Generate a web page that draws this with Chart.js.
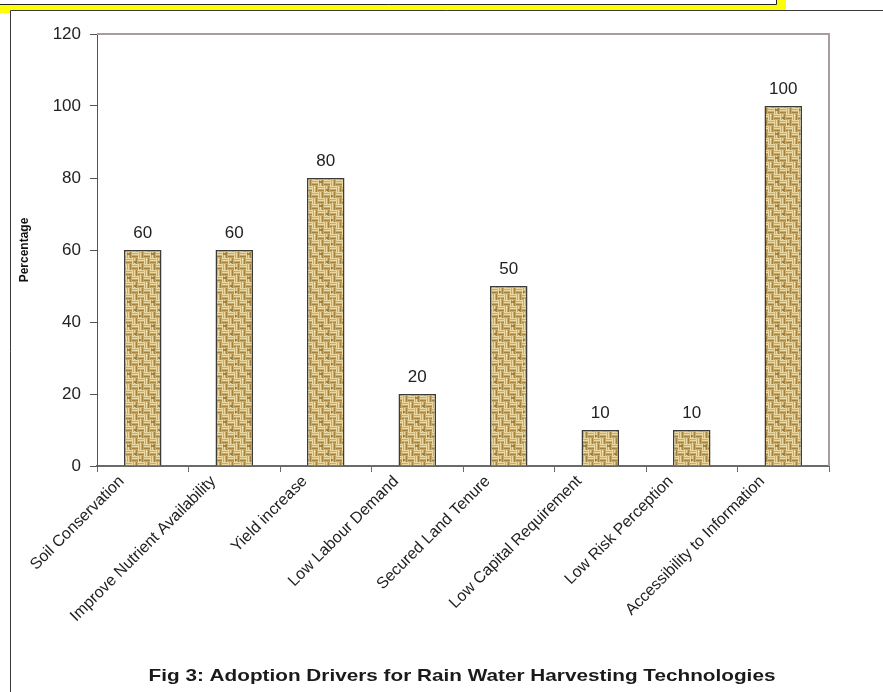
<!DOCTYPE html>
<html>
<head>
<meta charset="utf-8">
<script src="https://cdn.jsdelivr.net/npm/chart.js@4.4.1/dist/chart.umd.min.js"></script>
<style>
  html, body { margin: 0; padding: 0; background: #ffffff; }
  #wrap { width: 883px; height: 692px; }
</style>
</head>
<body>
<div id="wrap"><canvas id="c" width="883" height="692"></canvas></div>
<script>
// Adoption drivers and the share of respondents citing each one
const categories = [
  'Soil Conservation',
  'Improve Nutrient Availability',
  'Yield increase',
  'Low Labour Demand',
  'Secured Land Tenure',
  'Low Capital Requirement',
  'Low Risk Perception',
  'Accessibility to Information'
];
const percentages = [60, 60, 80, 20, 50, 10, 10, 100];
const yTicks = [0, 20, 40, 60, 80, 100, 120];
const yTitle = 'Percentage';
const caption = 'Fig 3: Adoption Drivers for Rain Water Harvesting Technologies';

const FONT = '"Liberation Sans", Arial, sans-serif';
const canvas = document.getElementById('c');
const ctx = canvas.getContext('2d');

// Woven sack-cloth fill for the bars
function burlapPattern() {
  const b = 6, n = b * 4;
  const p = document.createElement('canvas');
  p.width = n; p.height = n;
  const g = p.getContext('2d');
  g.fillStyle = '#cdaa68';
  g.fillRect(0, 0, n, n);
  for (let by = 0; by < 4; by++) {
    for (let bx = 0; bx < 4; bx++) {
      const x0 = bx * b, y0 = by * b;
      const horiz = (bx + by) % 2 === 0;
      for (let k = 0; k < 3; k++) {
        g.fillStyle = k === 2 ? '#a7823d' : '#ead9a2';
        if (horiz) g.fillRect(x0, y0 + k * 2, b, 1);
        else g.fillRect(x0 + k * 2, y0, 1, b);
      }
    }
  }
  // darker knots in the weave
  g.fillStyle = 'rgba(120,86,30,0.6)';
  g.fillRect(7, 13, 3, 2);
  g.fillRect(19, 3, 2, 2);
  g.fillRect(14, 21, 2, 2);
  g.fillStyle = 'rgba(245,232,190,0.7)';
  g.fillRect(2, 19, 2, 1);
  g.fillRect(20, 10, 1, 2);
  return ctx.createPattern(p, 'repeat');
}

// Page frame, the yellow strip at the top, plot outline, value labels and caption
const decorations = {
  id: 'decorations',
  beforeDraw(chart) {
    const c = chart.ctx;
    c.save();
    c.fillStyle = '#ffffff';
    c.fillRect(0, 0, chart.width, chart.height);
    c.fillStyle = '#ffff00';
    c.fillRect(0, 0, 786, 10);
    c.fillRect(0, 10, 10, 3);
    c.fillStyle = '#ffffff';
    c.fillRect(0, 0, 776, 4);
    c.strokeStyle = '#222222';
    c.lineWidth = 1;
    c.beginPath();
    c.moveTo(0, 4.5); c.lineTo(776.5, 4.5); c.lineTo(776.5, 0);
    c.stroke();
    c.strokeStyle = '#3a3a3a';
    c.beginPath();
    c.moveTo(10.5, chart.height); c.lineTo(10.5, 10.5); c.lineTo(chart.width, 10.5);
    c.stroke();
    c.restore();
  },
  afterDatasetsDraw(chart) {
    const c = chart.ctx;
    const a = chart.chartArea;
    c.save();
    c.strokeStyle = '#a89c9c';
    c.lineWidth = 2;
    c.beginPath();
    c.moveTo(a.left, a.top); c.lineTo(a.right, a.top); c.lineTo(a.right, a.bottom);
    c.stroke();

    c.fillStyle = '#222222';
    c.font = '17px ' + FONT;
    c.textAlign = 'center';
    c.textBaseline = 'middle';
    chart.getDatasetMeta(0).data.forEach((bar, i) => {
      c.fillText(String(percentages[i]), bar.x, bar.y - 17);
    });

    // caption, set slightly wide
    c.font = 'bold 17px ' + FONT;
    c.fillStyle = '#1a1a1a';
    c.translate(462, 676);
    c.scale(1.22, 1);
    c.fillText(caption, 0, 0);
    c.restore();
  }
};

new Chart(canvas, {
  type: 'bar',
  data: {
    labels: categories,
    datasets: [{
      data: percentages,
      backgroundColor: burlapPattern(),
      borderColor: '#3c3c3c',
      borderWidth: 1.5,
      borderSkipped: 'bottom',
      categoryPercentage: 1,
      barPercentage: 0.41
    }]
  },
  options: {
    responsive: false,
    animation: false,
    devicePixelRatio: 1,
    layout: { padding: { top: 34, right: 54, left: 0, bottom: 0 } },
    plugins: {
      legend: { display: false },
      tooltip: { enabled: false },
      title: { display: false }
    },
    scales: {
      x: {
        offset: true,
        afterFit(scale) { scale.height = 226; },
        grid: {
          offset: true,
          drawOnChartArea: false,
          drawTicks: true,
          tickLength: 6,
          color: '#6a6a6a'
        },
        border: { display: true, color: '#6a6a6a', width: 2 },
        ticks: {
          autoSkip: false,
          minRotation: 45,
          maxRotation: 45,
          labelOffset: -21,
          padding: 0,
          color: '#222222',
          font: { family: FONT, size: 16 }
        }
      },
      y: {
        min: 0,
        max: 120,
        afterFit(scale) { scale.width = 97; },
        afterBuildTicks(scale) { scale.ticks = yTicks.map(v => ({ value: v })); },
        grid: {
          drawOnChartArea: false,
          drawTicks: true,
          tickLength: 7,
          color: '#555555'
        },
        border: { display: true, color: '#555555', width: 1 },
        ticks: {
          padding: 9,
          color: '#222222',
          font: { family: FONT, size: 17 }
        },
        title: {
          display: true,
          text: yTitle,
          color: '#111111',
          font: { family: FONT, size: 12, weight: 'bold' },
          padding: { top: 17, bottom: 0 }
        }
      }
    }
  },
  plugins: [decorations]
});
</script>
</body>
</html>
